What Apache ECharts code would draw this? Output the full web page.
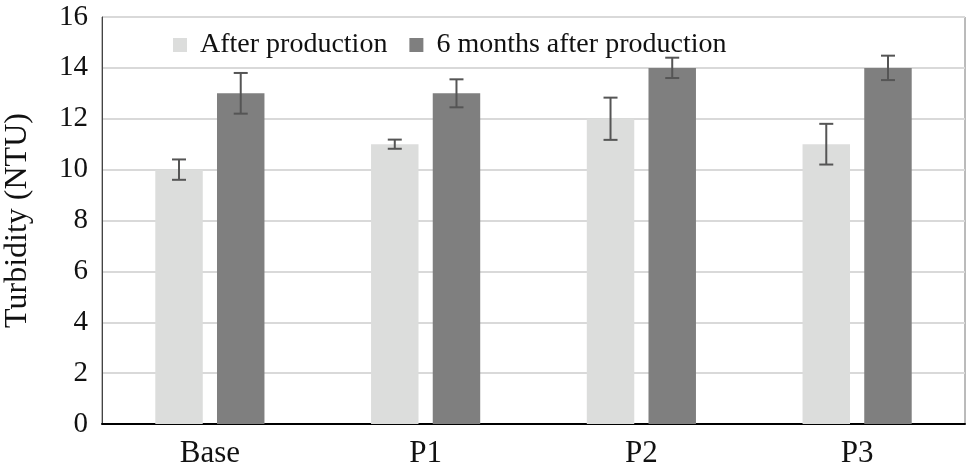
<!DOCTYPE html>
<html>
<head>
<meta charset="utf-8">
<script src="https://cdn.jsdelivr.net/npm/echarts@6/dist/echarts.min.js"></script>
<style>
  html, body { margin: 0; padding: 0; background: #fff; }
  #chart { width: 969px; height: 474px; }
</style>
</head>
<body>
<div id="chart"></div>
<script>

// data

const categories = ['Base', 'P1', 'P2', 'P3'];
const afterProduction = [10, 11, 12, 11];
const afterProductionErr = [0.4, 0.18, 0.83, 0.8];
const sixMonths = [13, 13, 14, 14];
const sixMonthsErr = [0.8, 0.55, 0.4, 0.48];
const yTicks = [0, 2, 4, 6, 8, 10, 12, 14, 16];

const BAR_WIDTH = 0.22;
const BAR_GAP = 0.3;
const serif = '"Liberation Serif", "DejaVu Serif", serif';

// error bar drawn as a custom series, shifted to sit on its bar

function errorBars(values, errs, side) {
    return {
        type: 'custom',
        silent: true,
        z: 10,
        data: values.map((v, i) => [i, v - errs[i], v + errs[i]]),
        renderItem: function (params, api) {
            const band = api.size([1, 0])[0];
            const shift = side * band * BAR_WIDTH * (1 + BAR_GAP) / 2;
            const low = api.coord([api.value(0), api.value(1)]);
            const high = api.coord([api.value(0), api.value(2)]);
            const x = low[0] + shift;
            const cap = 7;
            const style = { stroke: '#555555', lineWidth: 2 };
            return {
                type: 'group',
                children: [
                    { type: 'line', shape: { x1: x, y1: low[1], x2: x, y2: high[1] }, style },
                    { type: 'line', shape: { x1: x - cap, y1: low[1], x2: x + cap, y2: low[1] }, style },
                    { type: 'line', shape: { x1: x - cap, y1: high[1], x2: x + cap, y2: high[1] }, style }
                ]
            };
        }
    };
}

const chart = echarts.init(document.getElementById('chart'));

const option = {
    animation: false,
    textStyle: { fontFamily: serif },
    legend: {
        top: 26,
        left: 168,
        itemWidth: 14,
        itemHeight: 14,
        itemGap: 22,
        icon: 'rect',
        textStyle: { fontFamily: serif, fontSize: 28, color: '#111', padding: [0, 0, 0, 8] },
        data: ['After production', '6 months after production']
    },
    grid: {
        left: 102,
        right: 4,
        top: 17,
        bottom: 50,
        outerBoundsMode: 'none',
        show: true,
        borderColor: '#777',
        borderWidth: 1
    },
    xAxis: {
        type: 'category',
        data: categories,
        axisLine: { lineStyle: { color: '#000', width: 2 } },
        axisTick: { show: false },
        axisLabel: { fontFamily: serif, fontSize: 31, color: '#111', margin: 14 }
    },
    yAxis: {
        type: 'value',
        min: yTicks[0],
        max: yTicks[yTicks.length - 1],
        interval: 2,
        name: 'Turbidity (NTU)',
        nameLocation: 'middle',
        nameGap: 68,
        nameTextStyle: { fontFamily: serif, fontSize: 32, color: '#111' },
        axisLine: { show: true, lineStyle: { color: '#444', width: 1 } },
        axisTick: { show: false },
        axisLabel: { fontFamily: serif, fontSize: 29, color: '#111', margin: 14 },
        splitLine: { lineStyle: { color: '#d9d9d9', width: 2 } }
    },
    series: [
        {
            name: 'After production',
            type: 'bar',
            data: afterProduction,
            barWidth: (BAR_WIDTH * 100) + '%',
            barGap: (BAR_GAP * 100) + '%',
            itemStyle: { color: '#dcdddc' }
        },
        {
            name: '6 months after production',
            type: 'bar',
            data: sixMonths,
            barWidth: (BAR_WIDTH * 100) + '%',
            barGap: (BAR_GAP * 100) + '%',
            itemStyle: { color: '#7f7f7f' }
        },
        errorBars(afterProduction, afterProductionErr, -1),
        errorBars(sixMonths, sixMonthsErr, 1)
    ]
};

option && chart.setOption(option);

</script>
</body>
</html>
